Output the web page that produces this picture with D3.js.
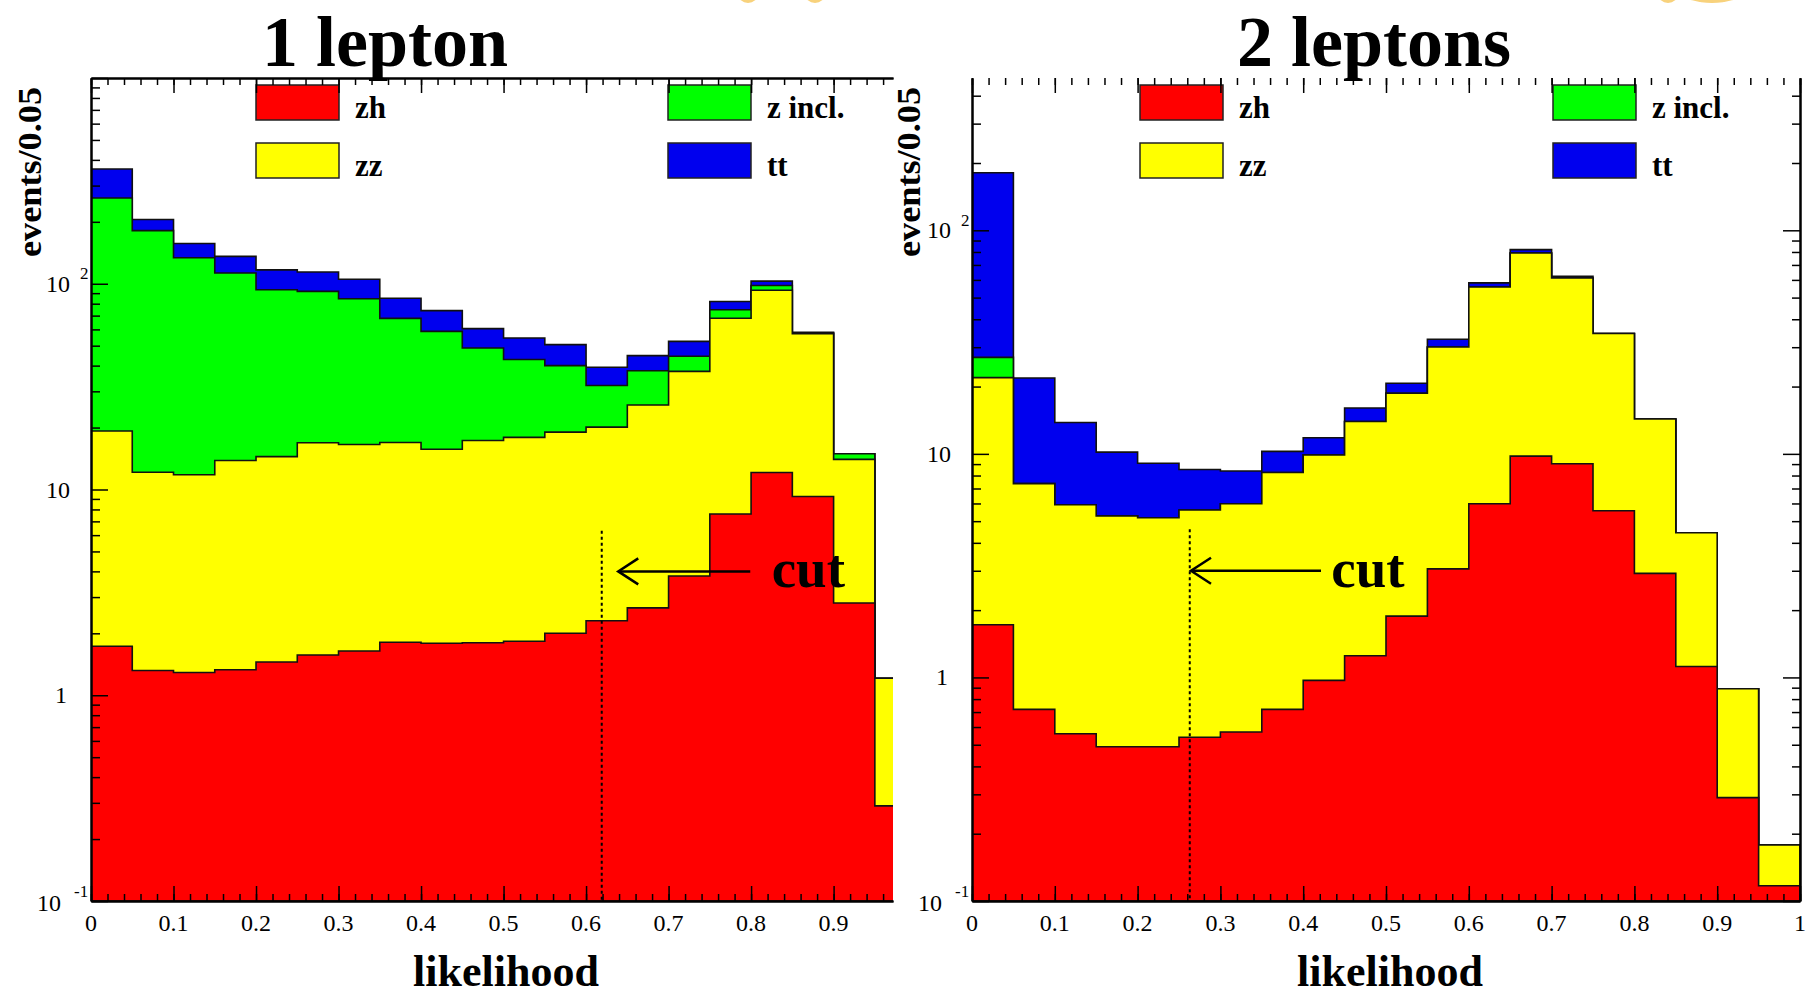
<!DOCTYPE html>
<html>
<head>
<meta charset="utf-8">
<script src="https://cdn.jsdelivr.net/npm/d3@7"></script>
<style>
  body { margin: 0; background: #fff; }
  text { font-family: "Liberation Serif", "Times New Roman", serif; fill: #000; }
</style>
</head>
<body>
<div id="chart"></div>
<script>
// likelihood bins (lower edges), width 0.05
const binLow = [0, 0.05, 0.1, 0.15, 0.2, 0.25, 0.3, 0.35, 0.4, 0.45, 0.5, 0.55, 0.6, 0.65, 0.7, 0.75, 0.8, 0.85, 0.9, 0.95];
const binWidth = 0.05;

const keys = ["zh", "zz", "zincl", "tt"];
const legendLabels = ["zh", "zz", "z incl.", "tt"];
const colors = ["#ff0000", "#ffff00", "#00ff00", "#0000ee"];

// 1 lepton (events / 0.05 per process)
const zh1    = [1.73, 1.32, 1.29, 1.33, 1.45, 1.57, 1.64, 1.81, 1.79, 1.80, 1.83, 2.00, 2.30, 2.66, 3.80, 7.60, 12.1, 9.24, 2.81, 0.29];
const zz1    = [17.5, 10.8, 10.5, 12.5, 13.0, 15.3, 14.9, 15.1, 13.9, 15.5, 16.1, 17.0, 17.8, 23.1, 33.7, 60.4, 80.9, 48.0, 11.2, 0.92];
const zincl1 = [242, 169, 122, 99, 79, 75, 68, 51, 43, 31.4, 24.9, 21, 11.9, 12, 6.9, 6.8, 5, 0.4, 0.9, 0];
const tt1    = [100, 24, 23, 23, 23.4, 22.2, 20.7, 17.1, 15.3, 11.8, 11.7, 10.6, 7.3, 7, 8.1, 7.2, 5, 0.5, 0, 0];

// 2 leptons
const zh2    = [1.72, 0.72, 0.56, 0.49, 0.49, 0.54, 0.57, 0.72, 0.97, 1.25, 1.88, 3.06, 5.98, 9.77, 9.03, 5.57, 2.92, 1.12, 0.29, 0.117];
const zz2    = [20.2, 6.64, 5.36, 4.79, 4.69, 5.07, 5.41, 7.54, 8.93, 12.7, 16.8, 27.0, 49.8, 69.4, 52.2, 29.0, 11.4, 3.32, 0.60, 0.061];
const zincl2 = [5.1, 0, 0, 0, 0, 0, 0, 0, 0, 0, 0, 0, 0, 0, 0, 0, 0, 0, 0, 0];
const tt2    = [154, 14.5, 7.9, 4.9, 3.9, 2.9, 2.4, 2.0, 1.9, 2.1, 2.0, 2.5, 2.4, 2.8, 1.1, 0, 0, 0, 0, 0];

// cut positions on the likelihood axis
const cuts = [0.619, 0.263];

const plotTop = 78, plotBottom = 901;

const panels = [
    { title: "1 lepton", series: [zh1, zz1, zincl1, tt1], xMax: 0.972, left: 91, right: 893, yMax: 1000,
      cutTop: 6.3, arrow: [0.639, 0.799, 0.825], arrowY: 4, legendX: [256, 668], ylabX: 29,
      rightAxis: false, topLine: true, titleX: 385, xTitleX: 506 },
    { title: "2 leptons", series: [zh2, zz2, zincl2, tt2], xMax: 1, left: 972, right: 1800, yMax: 480,
      cutTop: 4.6, arrow: [0.2645, 0.4215, 0.434], arrowY: 3, legendX: [1140, 1553], ylabX: 908,
      rightAxis: true, topLine: false, titleX: 1374, xTitleX: 1390 }
];

const svg = d3.select("#chart")
    .append("svg")
    .attr("width", 1808)
    .attr("height", 996);

svg.append("rect").attr("width", 1808).attr("height", 996).attr("fill", "#fff");
const defs = svg.append("defs");

const isPow10 = v => Math.abs(Math.log10(v) - Math.round(Math.log10(v))) < 1e-9;

panels.forEach((p, pi) => {
    const x = d3.scaleLinear().domain([0, p.xMax]).range([p.left, p.right]);
    const y = d3.scaleLog().domain([0.1, p.yMax]).range([plotBottom, plotTop]);

    const g = svg.append("g");
    if (pi === 1) {
        // second picture sits over the edge of the first one
        g.append("rect").attr("x", 894).attr("y", 70).attr("width", 1808 - 894).attr("height", 926).attr("fill", "#fff");
    }

    defs.append("clipPath").attr("id", "clip" + pi)
        .append("rect")
        .attr("x", p.left).attr("y", plotTop)
        .attr("width", p.right - p.left).attr("height", plotBottom - plotTop);

    // stacked histogram
    const rows = binLow.map((b, i) => {
        const r = { x0: b };
        keys.forEach((k, j) => r[k] = p.series[j][i]);
        return r;
    });
    const stacked = d3.stack().keys(keys)(rows);

    const area = d3.area()
        .curve(d3.curveStepAfter)
        .x(d => x(d[0]))
        .y0(plotBottom)
        .y1(d => y(d[1]));

    const hist = g.append("g").attr("clip-path", `url(#clip${pi})`);
    stacked.slice().reverse().forEach(layer => {
        const pts = layer.map((d, i) => [rows[i].x0, d[1]]);
        pts.push([binLow[binLow.length - 1] + binWidth, pts[pts.length - 1][1]]);
        hist.append("path")
            .datum(pts)
            .attr("d", area)
            .attr("fill", colors[layer.index])
            .attr("stroke", "#111")
            .attr("stroke-width", 1.6);
    });

    // legend
    keys.forEach((k, j) => {
        const col = j < 2 ? 0 : 1, row = j % 2;
        const lx = p.legendX[col], ly = [85, 143][row];
        g.append("rect")
            .attr("x", lx).attr("y", ly)
            .attr("width", 83).attr("height", 35)
            .attr("fill", colors[j])
            .attr("stroke", "#222")
            .attr("stroke-width", 1.5);
        g.append("text")
            .attr("x", lx + 99).attr("y", ly + 33)
            .style("font-size", "31px")
            .style("font-weight", "bold")
            .text(legendLabels[j]);
    });

    // axes
    const ax = g.append("g").attr("color", "#000");
    const minorX = x.ticks(50), majorX = x.ticks(10);
    const yTicks = y.ticks();
    const majorY = yTicks.filter(isPow10), minorY = yTicks.filter(v => !isPow10(v));

    const bot = ax.append("g").attr("transform", `translate(0,${plotBottom})`);
    bot.append("g").call(d3.axisTop(x).tickValues(minorX).tickSize(7).tickSizeOuter(0).tickFormat(""));
    bot.append("g").call(d3.axisTop(x).tickValues(majorX).tickSize(15).tickSizeOuter(0).tickFormat(""));

    const tp = ax.append("g").attr("transform", `translate(0,${plotTop})`);
    tp.append("g").call(d3.axisBottom(x).tickValues(minorX).tickSize(7).tickSizeOuter(0).tickFormat(""));
    tp.append("g").call(d3.axisBottom(x).tickValues(majorX).tickSize(15).tickSizeOuter(0).tickFormat(""));
    if (!p.topLine) tp.selectAll(".domain").remove();

    const lf = ax.append("g").attr("transform", `translate(${p.left},0)`);
    lf.append("g").call(d3.axisRight(y).tickValues(minorY).tickSize(9).tickSizeOuter(0).tickFormat(""));
    lf.append("g").call(d3.axisRight(y).tickValues(majorY).tickSize(17).tickSizeOuter(0).tickFormat(""));

    if (p.rightAxis) {
        const rt = ax.append("g").attr("transform", `translate(${p.right},0)`);
        rt.append("g").call(d3.axisLeft(y).tickValues(minorY).tickSize(8).tickSizeOuter(0).tickFormat(""));
        rt.append("g").call(d3.axisLeft(y).tickValues(majorY).tickSize(17).tickSizeOuter(0).tickFormat(""));
    }
    ax.selectAll(".tick line").attr("stroke-width", 1.5);
    ax.selectAll(".domain").attr("stroke-width", 2);

    // x tick labels
    g.selectAll(".xlab")
        .data(majorX).enter()
        .append("text")
        .attr("x", d => x(d))
        .attr("y", 923)
        .attr("text-anchor", "middle")
        .attr("dominant-baseline", "central")
        .style("font-size", "24px")
        .text(d => (+d.toFixed(1)).toString());

    // y tick labels, ROOT style 10^n
    majorY.filter(v => v < p.yMax * 0.999).forEach(v => {
        const e = Math.round(Math.log10(v));
        const base = e === 0 ? "1" : "10";
        g.append("text")
            .attr("x", p.left - (e < 0 ? 30 : e === 0 ? 24 : 21))
            .attr("y", y(v) + (e < 0 ? 2 : 0))
            .attr("text-anchor", "end")
            .attr("dominant-baseline", "central")
            .style("font-size", "24px")
            .text(base);
        if (e < 0 || e > 1) {
            g.append("text")
                .attr("x", p.left - (e < 0 ? 17 : 11))
                .attr("y", y(v) - 10)
                .attr("dominant-baseline", "central")
                .style("font-size", "17px")
                .text(e);
        }
    });

    // axis titles
    g.append("text")
        .attr("transform", `translate(${p.ylabX},172) rotate(-90)`)
        .attr("text-anchor", "middle")
        .attr("dominant-baseline", "central")
        .attr("textLength", 170)
        .attr("lengthAdjust", "spacingAndGlyphs")
        .style("font-size", "34px")
        .style("font-weight", "bold")
        .text("events/0.05");

    g.append("text")
        .attr("x", p.xTitleX).attr("y", 986)
        .attr("text-anchor", "middle")
        .style("font-size", "44px")
        .style("font-weight", "bold")
        .text("likelihood");

    g.append("text")
        .attr("x", p.titleX).attr("y", 66)
        .attr("text-anchor", "middle")
        .style("font-size", "72px")
        .style("font-weight", "bold")
        .text(p.title);

    // cut marker
    const cx = x(cuts[pi]);
    g.append("line")
        .attr("x1", cx).attr("x2", cx)
        .attr("y1", y(p.cutTop)).attr("y2", plotBottom)
        .attr("stroke", "#000").attr("stroke-width", 2)
        .attr("stroke-dasharray", "3,3");

    const ay = y(p.arrowY), tip = x(p.arrow[0]);
    g.append("line")
        .attr("x1", tip).attr("x2", x(p.arrow[1]))
        .attr("y1", ay).attr("y2", ay)
        .attr("stroke", "#000").attr("stroke-width", 2.5);
    g.append("path")
        .attr("d", `M${tip + 20},${ay - 13} L${tip},${ay} L${tip + 20},${ay + 13}`)
        .attr("fill", "none")
        .attr("stroke", "#000").attr("stroke-width", 2.5);
    g.append("text")
        .attr("x", x(p.arrow[2])).attr("y", ay + 16)
        .style("font-size", "55px")
        .style("font-weight", "bold")
        .text("cut");
});

// bits of a cropped graphic at the very top edge
svg.selectAll(".blob")
    .data([[748, 10], [815, 10], [1668, 10], [1712, 28]])
    .enter().append("ellipse")
    .attr("cx", d => d[0]).attr("cy", -6)
    .attr("rx", d => d[1]).attr("ry", 9)
    .attr("fill", "#f8d27c");
</script>
</body>
</html>
